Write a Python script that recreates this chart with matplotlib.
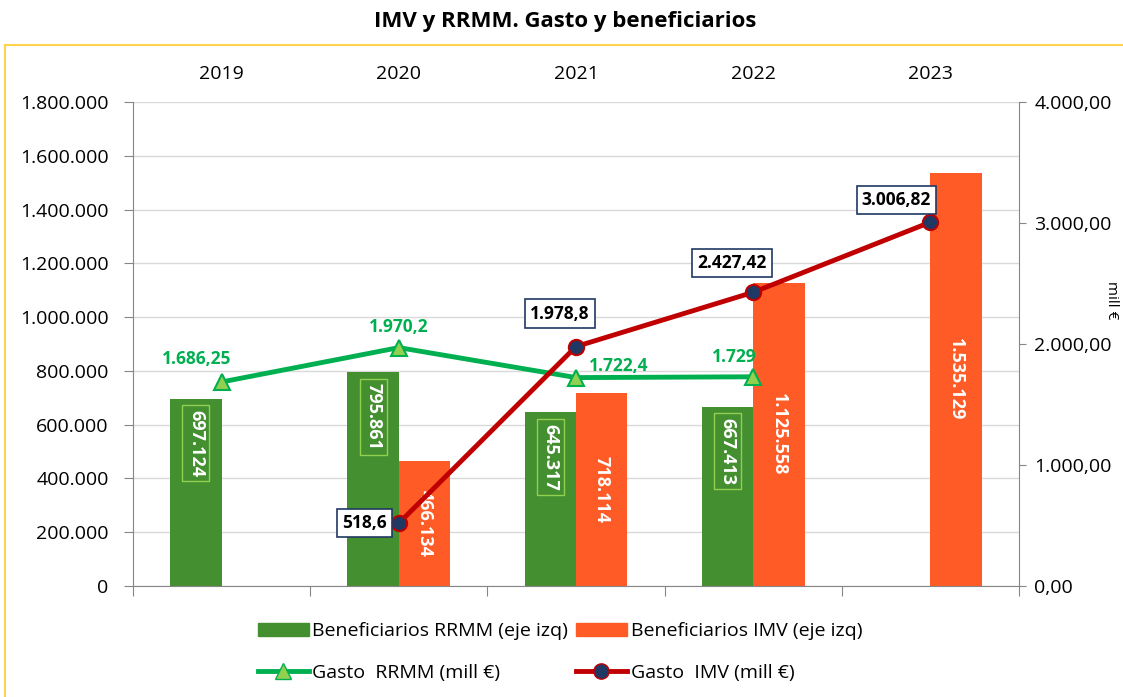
import matplotlib.pyplot as plt
import numpy as np
from matplotlib.patches import Rectangle
from matplotlib.lines import Line2D
from matplotlib.patches import Patch
from matplotlib.ticker import FuncFormatter

plt.rcParams['font.family'] = ['Open Sans', 'DejaVu Sans']

years = ['2019', '2020', '2021', '2022', '2023']
benef_rrmm = [697124, 795861, 645317, 667413, np.nan]
benef_imv = [np.nan, 466134, 718114, 1125558, 1535129]
gasto_rrmm = [1686.25, 1970.2, 1722.4, 1729, np.nan]
gasto_imv = [np.nan, 518.6, 1978.8, 2427.42, 3006.82]

rrmm_benef_lbl = ['697.124', '795.861', '645.317', '667.413', '']
imv_benef_lbl = ['', '466.134', '718.114', '1.125.558', '1.535.129']
rrmm_gasto_lbl = ['1.686,25', '1.970,2', '1.722,4', '1.729', '']
imv_gasto_lbl = ['', '518,6', '1.978,8', '2.427,42', '3.006,82']

# label offsets in pixels (dx, dy)
rrmm_off = [(-25, 23), (0, 21), (43, 12), (-19, 20), (0, 0)]
imv_off = [(0, 0), (-34, 0), (-16, 33), (-21, 29), (-34, 22)]

GREEN_BAR = '#448F30'
ORANGE = '#FF5B27'
GREEN_LINE = '#00B050'
LIGHT_GREEN = '#92D050'
RED = '#C00000'
NAVY = '#203864'
GRAY = '#868686'

fig = plt.figure(figsize=(11.23, 6.97), dpi=100)
ax = fig.add_axes([133 / 1123, 1 - 586 / 697, (1019 - 133) / 1123, (586 - 102) / 697])
ax2 = ax.twinx()

fig.patches.append(Rectangle((5 / 1123, -0.05), 1.2, 1 - 45 / 697 + 0.05,
                             transform=fig.transFigure, fill=False,
                             edgecolor='#FFD34D', lw=1.5))
fig.text(565 / 1123, 1 - 22 / 697, 'IMV y RRMM. Gasto y beneficiarios',
         ha='center', va='center', fontsize=16, fontweight='bold')

x = np.arange(len(years))
w = 0.29
ax.bar(x - w / 2, benef_rrmm, w, color=GREEN_BAR, zorder=2)
ax.bar(x + w / 2, benef_imv, w, color=ORANGE, zorder=2)

ax.set_xlim(-0.5, 4.5)
ax.set_ylim(0, 1800000)
ax.set_yticks(np.arange(0, 1800001, 200000))
ax.yaxis.set_major_formatter(FuncFormatter(lambda v, p: f'{int(v):,}'.replace(',', '.')))
ax.grid(axis='y', color='#D9D9D9', lw=1, zorder=0)
ax.set_axisbelow(True)

ax.set_xticks(np.arange(-0.5, 4.6, 1))
ax.set_xticklabels([])
ax.set_xticks(x, minor=True)
ax.set_xticklabels(years, minor=True)
ax.tick_params(axis='x', which='major', direction='out', length=7, color=GRAY)
ax.tick_params(axis='x', which='minor', length=0, labelbottom=False, labeltop=True,
               pad=14, labelsize=14)
ax.tick_params(axis='y', direction='out', length=6.5, color=GRAY, labelsize=14, pad=11)

ax.spines['top'].set_visible(False)
ax.spines['right'].set_visible(False)
ax2.spines['top'].set_visible(False)
ax2.spines['left'].set_visible(False)
ax2.spines['bottom'].set_visible(False)
ax.spines['left'].set_color(GRAY)
ax.spines['bottom'].set_color(GRAY)
ax2.spines['right'].set_color(GRAY)

ax2.set_ylim(0, 4000)
ax2.set_yticks(np.arange(0, 4001, 1000))
ax2.yaxis.set_major_formatter(FuncFormatter(
    lambda v, p: f'{v:,.2f}'.replace(',', 'X').replace('.', ',').replace('X', '.')))
ax2.tick_params(axis='y', direction='out', length=5, color=GRAY, labelsize=14, pad=6)
fig.text(1112 / 1123, 1 - 300 / 697, 'mill €', rotation=270, fontsize=11,
         ha='center', va='center')

# bar labels
for i in range(len(years)):
    if not np.isnan(benef_rrmm[i]):
        ax.annotate(rrmm_benef_lbl[i], (x[i] - w / 2, benef_rrmm[i]),
                    xytext=(0, -8), textcoords='offset points', rotation=-90,
                    ha='center', va='top', color='white', fontsize=13,
                    fontweight='bold', zorder=3,
                    bbox=dict(boxstyle='square,pad=0.25', fc='none', ec=LIGHT_GREEN, lw=1))
    if not np.isnan(benef_imv[i]):
        ax.text(x[i] + w / 2, benef_imv[i] / 2, imv_benef_lbl[i], rotation=-90,
                ha='center', va='center', color='white', fontsize=13,
                fontweight='bold', zorder=3)

ax2.plot(x, gasto_rrmm, color=GREEN_LINE, lw=3.5, marker='^', ms=11,
         mfc=LIGHT_GREEN, mec=GREEN_LINE, mew=1.5, zorder=4)
ax2.plot(x, gasto_imv, color=RED, lw=3.5, marker='o', ms=11,
         mfc=NAVY, mec=RED, mew=1.5, zorder=5)

k = 0.72
for i in range(len(years)):
    if not np.isnan(gasto_rrmm[i]):
        dx, dy = rrmm_off[i]
        ax2.annotate(rrmm_gasto_lbl[i], (x[i], gasto_rrmm[i]), xytext=(dx * k, dy * k),
                     textcoords='offset points', ha='center', va='center',
                     color=GREEN_LINE, fontsize=12.5, fontweight='bold', zorder=6)
    if not np.isnan(gasto_imv[i]):
        dx, dy = imv_off[i]
        ax2.annotate(imv_gasto_lbl[i], (x[i], gasto_imv[i]), xytext=(dx * k, dy * k),
                     textcoords='offset points', ha='center', va='center',
                     color='black', fontsize=12.5, fontweight='bold', zorder=6,
                     bbox=dict(boxstyle='square,pad=0.3', fc='white', ec=NAVY, lw=1.2))

handles = [Patch(color=GREEN_BAR),
           Line2D([], [], color=GREEN_LINE, lw=3.5, marker='^', ms=11,
                  mfc=LIGHT_GREEN, mec=GREEN_LINE),
           Patch(color=ORANGE),
           Line2D([], [], color=RED, lw=3.5, marker='o', ms=11, mfc=NAVY, mec=RED)]
labels = ['Beneficiarios RRMM (eje izq)', 'Gasto  RRMM (mill €)',
          'Beneficiarios IMV (eje izq)', 'Gasto  IMV (mill €)']
fig.legend(handles, labels, ncol=2, loc='center', bbox_to_anchor=(560 / 1123, 1 - 652 / 697),
           frameon=False, fontsize=14, handlelength=2.6, columnspacing=0.4,
           labelspacing=1.2, handletextpad=0.2)

fig.savefig('out.png', dpi=100)
